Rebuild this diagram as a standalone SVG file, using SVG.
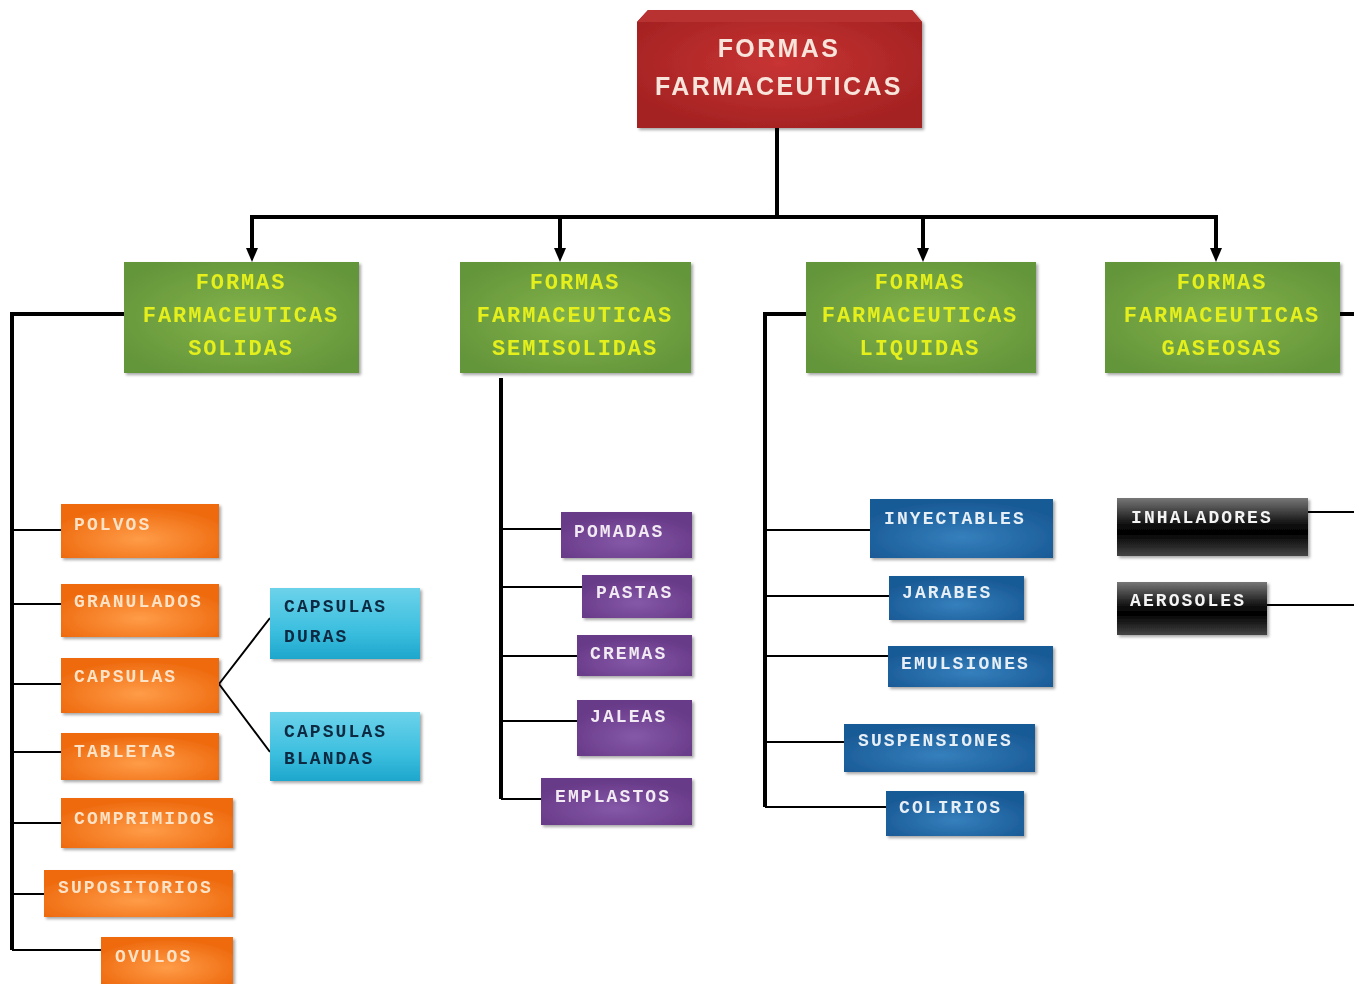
<svg xmlns="http://www.w3.org/2000/svg" width="1354" height="984" viewBox="0 0 1354 984">
<defs>
<style>
.mono{font-family:"Liberation Mono","Courier New",monospace;font-weight:bold;font-size:18px;letter-spacing:2.1px}
.g{font-family:"Liberation Mono","Courier New",monospace;font-weight:bold;font-size:22px;letter-spacing:1.9px;fill:#e4ef1e;text-anchor:middle}
.t{font-family:"Liberation Sans",Arial,sans-serif;font-weight:bold;font-size:25px;letter-spacing:2.4px;fill:#f8e4da;text-anchor:middle}
.main{stroke:#000;stroke-width:4;fill:none}
.br{stroke:#000;stroke-width:2;fill:none}
.or{fill:url(#gOr)}.cy{fill:url(#gCy)}.pu{fill:url(#gPu)}.bl{fill:url(#gBl)}.bk{fill:url(#gBk)}.gr{fill:url(#gGr)}
.tor{fill:#fde2c6}.tcy{fill:#0c2a42}.tpu{fill:#f2eaf2}.tbl{fill:#e6eef6}.tbk{fill:#f4f4f4}
</style>
<filter id="sh" x="-10%" y="-10%" width="125%" height="130%"><feDropShadow dx="2" dy="2" stdDeviation="1.5" flood-color="#000" flood-opacity="0.35"/></filter>
<radialGradient id="gRed" cx="0.5" cy="0.45" r="0.6"><stop offset="0" stop-color="#c83434"/><stop offset="1" stop-color="#a42222"/></radialGradient>
<radialGradient id="gGr" cx="0.5" cy="0.5" r="0.6"><stop offset="0" stop-color="#82b24a"/><stop offset="1" stop-color="#64953a"/></radialGradient>
<radialGradient id="gOr" cx="0.5" cy="0.65" r="0.6"><stop offset="0" stop-color="#ff9c48"/><stop offset="1" stop-color="#ee6a0e"/></radialGradient>
<linearGradient id="gCy" x1="0" y1="0" x2="0" y2="1"><stop offset="0" stop-color="#6cd2ea"/><stop offset="0.6" stop-color="#3cbfdf"/><stop offset="1" stop-color="#1ea6cc"/></linearGradient>
<radialGradient id="gPu" cx="0.5" cy="0.65" r="0.6"><stop offset="0" stop-color="#8558a8"/><stop offset="1" stop-color="#683a88"/></radialGradient>
<radialGradient id="gBl" cx="0.5" cy="0.65" r="0.6"><stop offset="0" stop-color="#3580bd"/><stop offset="1" stop-color="#195a96"/></radialGradient>
<linearGradient id="gBk" x1="0" y1="0" x2="0" y2="1"><stop offset="0" stop-color="#777"/><stop offset="0.45" stop-color="#111"/><stop offset="0.6" stop-color="#000"/><stop offset="1" stop-color="#444"/></linearGradient>
<marker id="arr" viewBox="0 0 10 10" refX="0" refY="5" markerWidth="14" markerHeight="12" markerUnits="userSpaceOnUse" orient="auto" preserveAspectRatio="none"><path d="M0,0 L10,5 L0,10 Z" fill="#000"/></marker>
</defs>
<rect width="1354" height="984" fill="#fff"/>

<g id="connectors">
<path class="main" d="M777,128 V217"/>
<path class="main" d="M252,217 H1216"/>
<path class="main" d="M252,215 V248" marker-end="url(#arr)"/>
<path class="main" d="M560,215 V248" marker-end="url(#arr)"/>
<path class="main" d="M923,215 V248" marker-end="url(#arr)"/>
<path class="main" d="M1216,215 V248" marker-end="url(#arr)"/>
<path class="main" d="M124,314 H12 V950"/>
<path class="br" d="M12,530 H61 M12,604 H61 M12,684 H61 M12,752 H61 M12,823 H61 M12,894 H44 M12,950 H101"/>
<path class="br" d="M219,684 L270,618 M219,684 L270,752"/>
<path class="main" d="M501,378 V799"/>
<path class="br" d="M501,529 H561 M501,587 H582 M501,656 H577 M501,721 H577 M501,799 H541"/>
<path class="main" d="M806,314 H765 V807"/>
<path class="br" d="M765,530 H870 M765,596 H889 M765,656 H888 M765,742 H844 M765,807 H886"/>
<path class="main" d="M1340,314 H1354"/>
<path class="br" d="M1308,512 H1354 M1267,605 H1354"/>
</g>

<g id="root" filter="url(#sh)">
<path d="M637,22 L648,10 H912 L922,22 V128 H637 Z" fill="url(#gRed)"/>
<path d="M637,22 L648,10 H912 L922,22 Z" fill="#b83030"/>
<text class="t" x="779" y="57">FORMAS</text>
<text class="t" x="779" y="95">FARMACEUTICAS</text>
</g>

<g id="solidas" filter="url(#sh)"><rect class="gr" x="124" y="262" width="235" height="111"/>
<text class="g" x="241" y="289">FORMAS</text><text class="g" x="241" y="322">FARMACEUTICAS</text><text class="g" x="241" y="355">SOLIDAS</text></g>
<g id="semisolidas" filter="url(#sh)"><rect class="gr" x="460" y="262" width="231" height="111"/>
<text class="g" x="575" y="289">FORMAS</text><text class="g" x="575" y="322">FARMACEUTICAS</text><text class="g" x="575" y="355">SEMISOLIDAS</text></g>
<g id="liquidas" filter="url(#sh)"><rect class="gr" x="806" y="262" width="230" height="111"/>
<text class="g" x="920" y="289">FORMAS</text><text class="g" x="920" y="322">FARMACEUTICAS</text><text class="g" x="920" y="355">LIQUIDAS</text></g>
<g id="gaseosas" filter="url(#sh)"><rect class="gr" x="1105" y="262" width="235" height="111"/>
<text class="g" x="1222" y="289">FORMAS</text><text class="g" x="1222" y="322">FARMACEUTICAS</text><text class="g" x="1222" y="355">GASEOSAS</text></g>

<g id="polvos" filter="url(#sh)"><rect class="or" x="61" y="504" width="158" height="54"/><text class="mono tor" x="74" y="530">POLVOS</text></g>
<g id="granulados" filter="url(#sh)"><rect class="or" x="61" y="584" width="158" height="53"/><text class="mono tor" x="74" y="607">GRANULADOS</text></g>
<g id="capsulas" filter="url(#sh)"><rect class="or" x="61" y="658" width="158" height="55"/><text class="mono tor" x="74" y="682">CAPSULAS</text></g>
<g id="tabletas" filter="url(#sh)"><rect class="or" x="61" y="733" width="158" height="47"/><text class="mono tor" x="74" y="757">TABLETAS</text></g>
<g id="comprimidos" filter="url(#sh)"><rect class="or" x="61" y="798" width="172" height="50"/><text class="mono tor" x="74" y="824">COMPRIMIDOS</text></g>
<g id="supositorios" filter="url(#sh)"><rect class="or" x="44" y="870" width="189" height="47"/><text class="mono tor" x="58" y="893">SUPOSITORIOS</text></g>
<g id="ovulos" filter="url(#sh)"><rect class="or" x="101" y="937" width="132" height="47"/><text class="mono tor" x="115" y="962">OVULOS</text></g>

<g id="capsulas-duras" filter="url(#sh)"><rect class="cy" x="270" y="588" width="150" height="71"/><text class="mono tcy" x="284" y="612">CAPSULAS</text><text class="mono tcy" x="284" y="642">DURAS</text></g>
<g id="capsulas-blandas" filter="url(#sh)"><rect class="cy" x="270" y="712" width="150" height="69"/><text class="mono tcy" x="284" y="737">CAPSULAS</text><text class="mono tcy" x="284" y="764">BLANDAS</text></g>

<g id="pomadas" filter="url(#sh)"><rect class="pu" x="561" y="512" width="131" height="46"/><text class="mono tpu" x="574" y="537">POMADAS</text></g>
<g id="pastas" filter="url(#sh)"><rect class="pu" x="582" y="575" width="110" height="43"/><text class="mono tpu" x="596" y="598">PASTAS</text></g>
<g id="cremas" filter="url(#sh)"><rect class="pu" x="577" y="635" width="115" height="41"/><text class="mono tpu" x="590" y="659">CREMAS</text></g>
<g id="jaleas" filter="url(#sh)"><rect class="pu" x="577" y="700" width="115" height="56"/><text class="mono tpu" x="590" y="722">JALEAS</text></g>
<g id="emplastos" filter="url(#sh)"><rect class="pu" x="541" y="778" width="151" height="47"/><text class="mono tpu" x="555" y="802">EMPLASTOS</text></g>

<g id="inyectables" filter="url(#sh)"><rect class="bl" x="870" y="499" width="183" height="59"/><text class="mono tbl" x="884" y="524">INYECTABLES</text></g>
<g id="jarabes" filter="url(#sh)"><rect class="bl" x="889" y="576" width="135" height="44"/><text class="mono tbl" x="902" y="598">JARABES</text></g>
<g id="emulsiones" filter="url(#sh)"><rect class="bl" x="888" y="646" width="165" height="41"/><text class="mono tbl" x="901" y="669">EMULSIONES</text></g>
<g id="suspensiones" filter="url(#sh)"><rect class="bl" x="844" y="724" width="191" height="48"/><text class="mono tbl" x="858" y="746">SUSPENSIONES</text></g>
<g id="colirios" filter="url(#sh)"><rect class="bl" x="886" y="791" width="138" height="45"/><text class="mono tbl" x="899" y="813">COLIRIOS</text></g>

<g id="inhaladores" filter="url(#sh)"><rect class="bk" x="1117" y="498" width="191" height="58"/><text class="mono tbk" x="1131" y="523">INHALADORES</text></g>
<g id="aerosoles" filter="url(#sh)"><rect class="bk" x="1117" y="582" width="150" height="53"/><text class="mono tbk" x="1130" y="606">AEROSOLES</text></g>
</svg>
